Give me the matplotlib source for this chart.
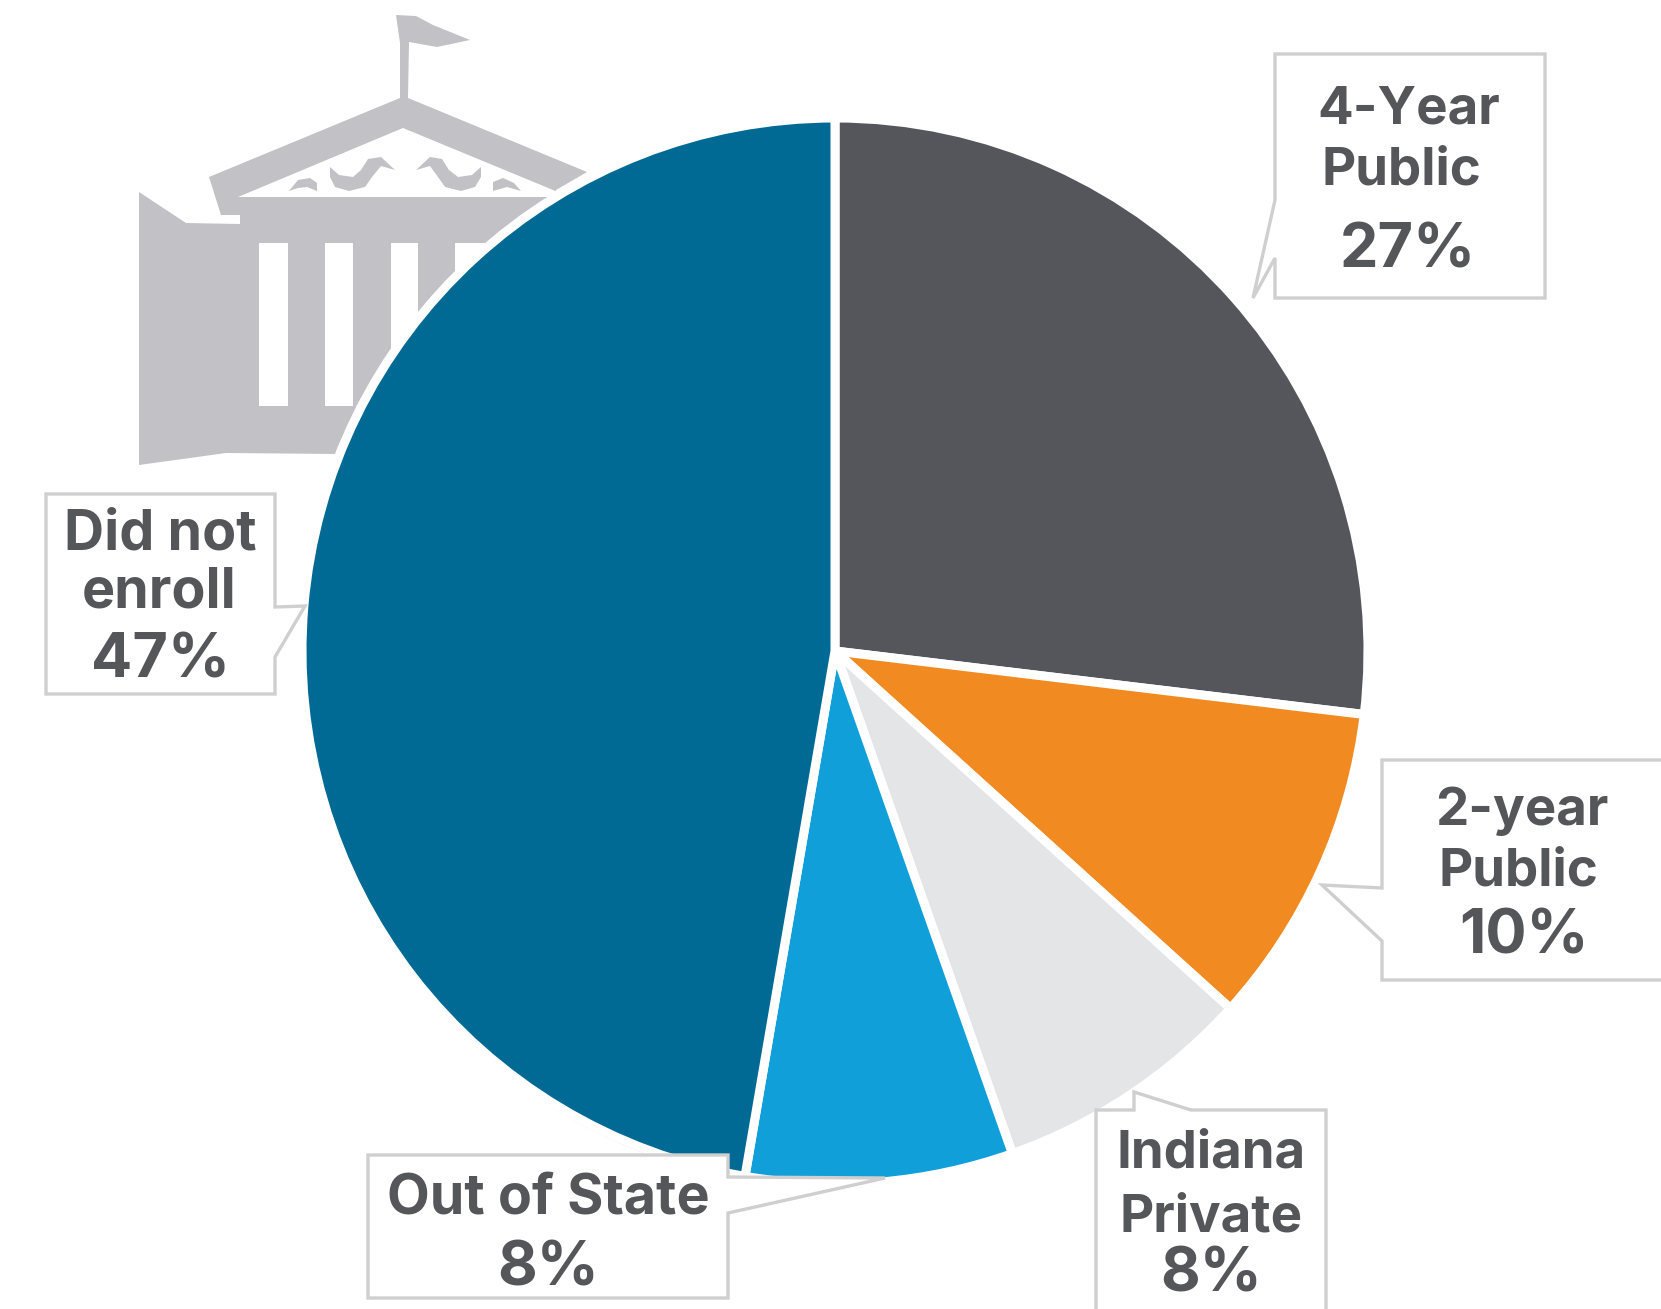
import matplotlib
matplotlib.use("Agg")
import matplotlib.pyplot as plt
from matplotlib.patches import Polygon

plt.rcParams["font.family"] = ["Inter", "DejaVu Sans"]

categories = ["4-Year\nPublic", "2-year\nPublic", "Indiana\nPrivate", "Out of State", "Did not\nenroll"]
values = [26.9, 9.8, 7.9, 8.1, 47.3]
colors = ["#54565b", "#f18a21", "#e4e5e7", "#109fd9", "#006a94"]

W, H = 1661, 1309
TEXT = "#55565a"
GRAY = "#c2c2c6"
EDGE = "#cfcfcf"

# callout outlines, in image pixels (y down)
callouts = [
    [(1275, 54), (1545, 54), (1545, 298), (1275, 298), (1275, 258), (1253, 298), (1275, 200)],
    [(1382, 760), (1680, 760), (1680, 980), (1382, 980), (1382, 941), (1322, 885), (1382, 888)],
    [(1096, 1110), (1134, 1110), (1134, 1092), (1191, 1110), (1326, 1110), (1326, 1330), (1096, 1330)],
    [(368, 1155), (728, 1155), (728, 1177), (885, 1178), (728, 1213), (728, 1298), (368, 1298)],
    [(46, 494), (275, 494), (275, 607), (305, 606), (275, 657), (275, 694), (46, 694)],
]

# (x, y) of each text line: label lines then percent
label_pos = [
    [(1409, 110), (1401, 171)],
    [(1522, 811), (1518, 872)],
    [(1211, 1154), (1211, 1218)],
    [(548, 1199)],
    [(160, 535), (159, 592)],
]
label_size = [38, 38, 38, 40, 40]
pct_pos = [(1408, 251), (1524, 937), (1211, 1275), (548, 1269), (160, 662)]


def fy(y):
    return H - y


def poly(pts, **kw):
    return Polygon([(x, fy(y)) for x, y in pts], closed=True, **kw)


fig = plt.figure(figsize=(W / 100, H / 100), dpi=100)
ax = fig.add_axes([0, 0, 1, 1])

# building icon behind the pie
building = [(139, 192), (186, 223), (240, 224), (240, 215), (221, 215), (209, 177),
            (400, 98), (400, 43), (396, 15), (416, 16), (433, 25), (470, 40), (437, 47), (409, 42),
            (408, 98), (587, 172), (556, 190), (560, 456), (226, 453), (139, 465)]
ax.add_patch(poly(building, fc=GRAY, ec="none", zorder=1))
ax.add_patch(poly([(403, 128), (238, 197), (570, 197)], fc="white", ec="none", zorder=1.1))
for x0, x1 in [(259, 288), (325, 353), (391, 418), (455, 490)]:
    ax.add_patch(poly([(x0, 243), (x1, 243), (x1, 406), (x0, 406)], fc="white", ec="none", zorder=1.1))

# ornaments in the pediment
ornaments = [
    [(330, 167), (339, 175), (353, 177), (361, 170), (368, 159), (381, 157), (395, 170),
     (381, 166), (372, 177), (365, 187), (349, 191), (335, 187), (330, 177)],
    [(481, 167), (472, 175), (458, 177), (449, 170), (442, 159), (430, 157), (416, 170),
     (430, 166), (438, 177), (445, 187), (461, 191), (475, 187), (481, 177)],
    [(289, 191), (298, 180), (310, 178), (317, 183), (317, 191), (307, 187), (298, 188)],
    [(493, 191), (493, 182), (503, 178), (514, 183), (521, 191), (507, 187)],
]
for o in ornaments:
    ax.add_patch(poly(o, fc=GRAY, ec="none", zorder=1.2))

# thin coloured rim that peeks out past the white edge at the bottom
ax.pie(values, colors=colors, startangle=90, counterclock=False,
       center=(833.5, fy(657)), radius=531,
       wedgeprops={"edgecolor": "none", "zorder": 1.5})
ax.pie(values, colors=colors, startangle=90, counterclock=False,
       center=(835, fy(651)), radius=533,
       wedgeprops={"edgecolor": "white", "linewidth": 6.5, "zorder": 2})

ax.set_xlim(0, W)
ax.set_ylim(0, H)
ax.set_aspect("equal")
ax.axis("off")

for pts in callouts:
    ax.add_patch(poly(pts, fc="white", ec=EDGE, lw=2.4, joinstyle="miter", zorder=3))

for label, lines, size, v, p in zip(categories, label_pos, label_size, values, pct_pos):
    for line, (x, y) in zip(label.split("\n"), lines):
        ax.text(x, fy(y), line, ha="center", va="center", fontsize=size,
                fontweight="bold", color=TEXT, zorder=4)
    ax.text(p[0], fy(p[1]), f"{v:.0f}%", ha="center", va="center", fontsize=44,
            fontweight="bold", color=TEXT, zorder=4)

fig.savefig("out.png", dpi=100)
